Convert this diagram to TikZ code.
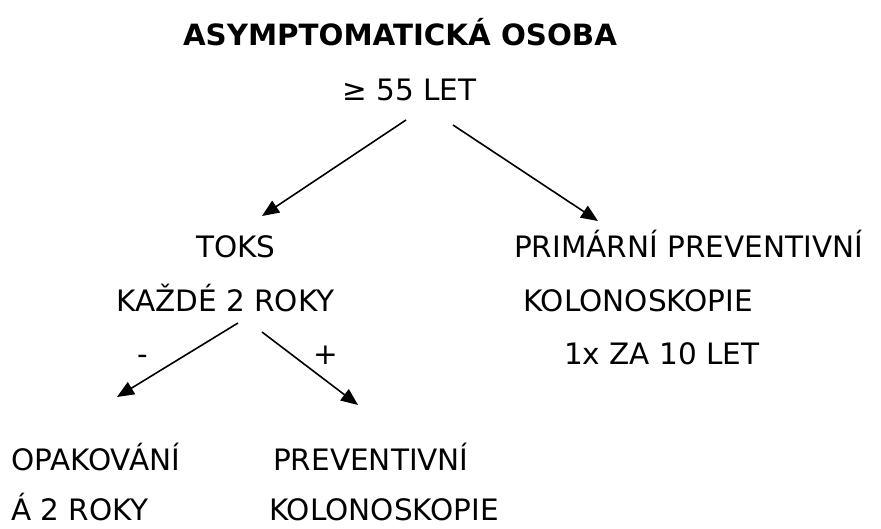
\documentclass[tikz,border=0pt]{standalone}
\usepackage{fontspec}
\setmainfont{DejaVu Sans}
\usetikzlibrary{arrows.meta}

\tikzset{
    lbl/.style={anchor=base west, inner sep=0pt, font=\fontsize{29.5}{35}\selectfont},
    sign/.style={anchor=base, inner sep=0pt, font=\fontsize{29.5}{35}\selectfont},
    arr/.style={line width=1.6pt, -{Triangle[length=17pt,width=14pt]}}
}

\begin{document}
\begin{tikzpicture}[x=1pt,y=-1pt]
    \useasboundingbox (0,0) rectangle (881,528);

    % ---- Top ----
    \node[lbl, anchor=base, font=\fontsize{29.3}{35}\selectfont\bfseries] (title) at (400,45) {ASYMPTOMATICKÁ OSOBA};
    \node[lbl] (age) at (342,100) {≥ 55 LET};

    % Arrows from the top
    \coordinate (a1) at (406,120);
    \coordinate (a2) at (262,216);
    \coordinate (b1) at (453,125);
    \coordinate (b2) at (598,221);
    \draw[arr] (a1) -- (a2);
    \draw[arr] (b1) -- (b2);

    % ---- Left branch ----
    \node[lbl] (toks) at (196,257) {TOKS};
    \node[lbl] (each) at (116,311) {KAŽDÉ 2 ROKY};

    \coordinate (c1) at (238,323);
    \coordinate (c2) at (117,397);
    \coordinate (d1) at (262,332);
    \coordinate (d2) at (358,405);
    \draw[arr] (c1) -- (c2);
    \draw[arr] (d1) -- (d2);
    \node[sign] (neg) at (143,364) {-};
    \node[sign] (pos) at (326,364) {+};

    \node[lbl] (rep) at (11,470) {OPAKOVÁNÍ};
    \node[lbl] (rep2) at (11,520) {Á 2 ROKY};
    \node[lbl] (prev) at (273,470) {PREVENTIVNÍ};
    \node[lbl] (colo) at (269,520) {KOLONOSKOPIE};

    % ---- Right branch ----
    \node[lbl] (prim) at (514,257) {PRIMÁRNÍ PREVENTIVNÍ};
    \node[lbl] (colo2) at (523,311) {KOLONOSKOPIE};
    \node[lbl] (freq) at (564,364) {1x ZA 10 LET};
\end{tikzpicture}
\end{document}
